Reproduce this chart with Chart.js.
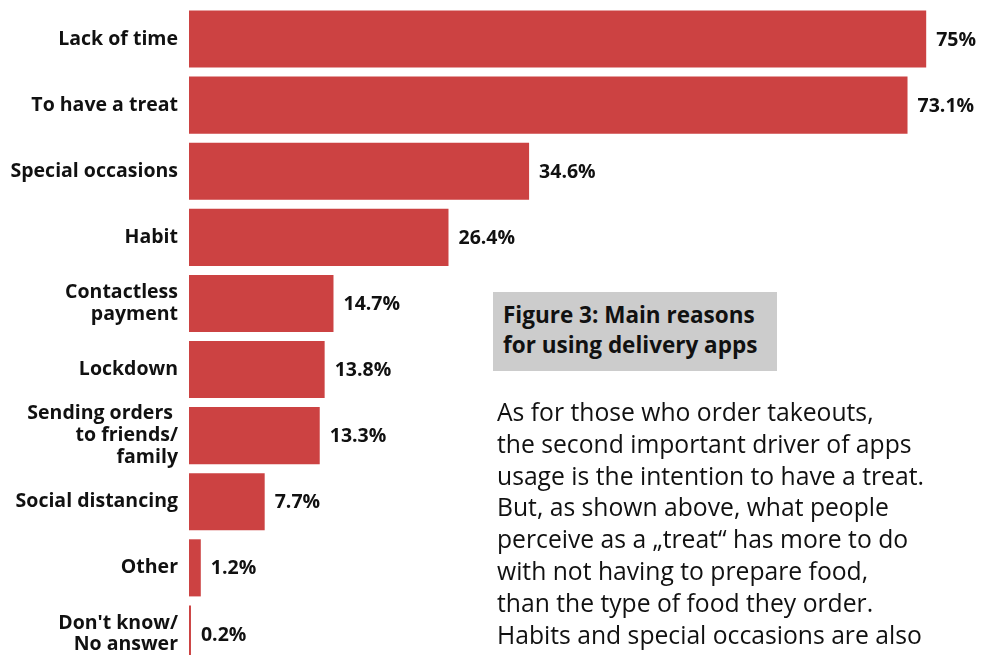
<!DOCTYPE html>
<html>
<head>
<meta charset="utf-8">
<script src="https://cdn.jsdelivr.net/npm/chart.js@4"></script>
<style>
  html, body { margin: 0; padding: 0; background: #fff; overflow: hidden; width: 995px; height: 655px; }
  #wrap { position: absolute; left: 0; top: 0; width: 995px; height: 667px; }
  #caption {
    position: absolute; left: 493px; top: 292px; width: 284px; height: 79px;
    background: #cccccc; box-sizing: border-box; padding: 8px 0 0 10px;
    font-family: "Open Sans", sans-serif; font-weight: 700; font-size: 22.5px; line-height: 30px;
    color: #111; white-space: pre; letter-spacing: 0;
  }
  #para {
    position: absolute; left: 497px; top: 396px;
    font-family: "Open Sans", sans-serif; font-size: 24.7px; line-height: 31.8px;
    color: #111; white-space: pre;
  }
</style>
</head>
<body>
<div id="wrap"><canvas id="chart"></canvas></div>
<div id="caption">Figure 3: Main reasons
for using delivery apps</div>
<div id="para">As for those who order takeouts,
the second important driver of apps
usage is the intention to have a treat.
But, as shown above, what people
perceive as a „treat“ has more to do
with not having to prepare food,
than the type of food they order.
Habits and special occasions are also</div>
<script>
// Reasons for using delivery apps (share of respondents, %)
const reasons = [
  ["Lack of time"],
  ["To have a treat"],
  ["Special occasions"],
  ["Habit"],
  ["Contactless", "payment"],
  ["Lockdown"],
  ["Sending orders ", "to friends/", "family"],
  ["Social distancing"],
  ["Other"],
  ["Don't know/", "No answer"]
];
const shares = [75, 73.1, 34.6, 26.4, 14.7, 13.8, 13.3, 7.7, 1.2, 0.2];

const barRed = "#cc4242";
const labelFont = { family: "'Open Sans', sans-serif", size: 19.5, weight: "700" };

// Writes each value as a percentage just past the end of its bar
const valueLabels = {
  id: "valueLabels",
  afterDatasetsDraw(chart) {
    const ctx = chart.ctx;
    const meta = chart.getDatasetMeta(0);
    ctx.save();
    ctx.font = `${labelFont.weight} ${labelFont.size}px ${labelFont.family}`;
    ctx.fillStyle = "#111";
    ctx.textAlign = "left";
    ctx.textBaseline = "middle";
    meta.data.forEach((bar, i) => {
      ctx.fillText(shares[i] + "%", bar.x + 10, bar.y + 1);
    });
    ctx.restore();
  }
};

new Chart(document.getElementById("chart"), {
  type: "bar",
  data: {
    labels: reasons,
    datasets: [{
      data: shares,
      backgroundColor: barRed,
      borderWidth: 0,
      barPercentage: 1,
      categoryPercentage: 0.864
    }]
  },
  options: {
    indexAxis: "y",
    responsive: true,
    maintainAspectRatio: false,
    animation: false,
    layout: { padding: { top: 6, bottom: 0, left: 0, right: 0 } },
    plugins: { legend: { display: false }, tooltip: { enabled: false } },
    scales: {
      x: { display: false, min: 0, max: 82 },
      y: {
        grid: { display: false, drawTicks: false },
        border: { display: false },
        afterFit(scale) {
          scale.width = 189;
          scale.paddingTop = 0;
          scale.paddingBottom = 0;
        },
        ticks: {
          autoSkip: false,
          color: "#111",
          padding: 11,
          font: { ...labelFont, lineHeight: 1.12 }
        }
      }
    }
  },
  plugins: [valueLabels]
});
</script>
</body>
</html>
